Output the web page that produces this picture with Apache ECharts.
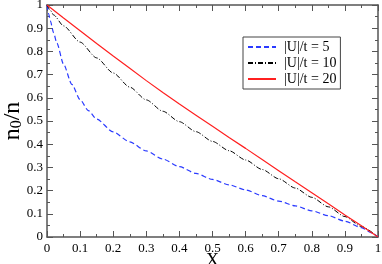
<!DOCTYPE html>
<html><head><meta charset="utf-8">
<script src="https://cdn.jsdelivr.net/npm/echarts@6/dist/echarts.min.js"></script>
<style>html,body{margin:0;padding:0;background:#fff}#c{width:382px;height:264px}</style>
</head><body><div id="c"></div>
<script>
var xTickLabels = ['0','0.1','0.2','0.3','0.4','0.5','0.6','0.7','0.8','0.9','1'];
var yTickLabels = ['0','0.1','0.2','0.3','0.4','0.5','0.6','0.7','0.8','0.9','1'];
var seriesNames = ['|U|/t = 5','|U|/t = 10','|U|/t = 20'];

var xU5 = [0,0.005,0.01,0.02,0.03,0.05,0.075,0.1,0.125,0.15,0.2,0.25,0.3,0.35,0.4,0.45,0.5,0.55,0.6,0.65,0.7,0.75,0.8,0.85,0.9,0.95,0.98,1];
var yU5 = [1,0.962,0.932,0.88,0.835,0.745,0.658,0.592,0.545,0.508,0.453,0.41,0.371,0.336,0.303,0.274,0.248,0.225,0.203,0.178,0.155,0.134,0.113,0.092,0.068,0.04,0.018,0];

var xU10 = [0,0.01,0.02,0.05,0.1,0.15,0.2,0.25,0.3,0.35,0.4,0.45,0.5,0.55,0.6,0.65,0.7,0.75,0.8,0.85,0.9,0.95,1];
var yU10 = [1,0.977,0.957,0.91,0.84,0.772,0.707,0.646,0.591,0.542,0.497,0.454,0.412,0.372,0.332,0.291,0.251,0.211,0.171,0.13,0.088,0.045,0];

var xU20 = [0,0.05,0.1,0.15,0.2,0.25,0.3,0.35,0.4,0.45,0.5,0.55,0.6,0.65,0.7,0.75,0.8,0.85,0.9,0.95,1];
var yU20 = [1,0.944,0.889,0.834,0.78,0.727,0.674,0.623,0.573,0.525,0.477,0.429,0.382,0.334,0.286,0.238,0.191,0.143,0.095,0.048,0];

function pairs(xs, ys){ return xs.map(function(x,i){ return [x, ys[i]]; }); }

var serif = 'Liberation Serif';
var axisCol = '#555';

var chart = echarts.init(document.getElementById('c'), null, {renderer:'canvas'});
function baseAxis(){
  return {
    type:'value', min:0, max:1, interval:0.1,
    axisLine:{show:true, onZero:false, lineStyle:{color:axisCol, width:1.5}},
    axisTick:{show:true, inside:true, length:6, lineStyle:{color:axisCol}},
    minorTick:{show:true, splitNumber:2, length:3, lineStyle:{color:axisCol}},
    splitLine:{show:false}
  };
}
chart.setOption({
  animation:false,
  grid:{left:47, right:4, top:5, bottom:27, containLabel:false, outerBoundsMode:'none'},
  legend:{
    left:243, top:37, orient:'vertical', itemWidth:28, itemHeight:10, itemGap:2,
    padding:[3,4,3,4], borderColor:'#444', borderWidth:1, backgroundColor:'#fff',
    data:seriesNames, itemStyle:{opacity:0},
    textStyle:{fontFamily:serif, fontSize:14, color:'#000', padding:[0,0,0,3]}
  },
  xAxis:[
    Object.assign(baseAxis(), {position:'bottom',
      axisLabel:{show:true, margin:5, fontFamily:serif, fontSize:13, color:'#000',
        formatter:function(v){ return xTickLabels[Math.round(v*10)]; }},
      name:'X', nameLocation:'middle', nameGap:15, nameMoveOverlap:false,
      nameTextStyle:{fontFamily:serif, fontSize:18, color:'#000'}}),
    Object.assign(baseAxis(), {position:'top', axisLabel:{show:false}})
  ],
  yAxis:[
    Object.assign(baseAxis(), {position:'left',
      axisLabel:{show:true, margin:4, fontFamily:serif, fontSize:13, color:'#000',
        formatter:function(v){ return yTickLabels[Math.round(v*10)]; }},
      name:'{a|n}{b|0}{a|/n}', nameLocation:'middle', nameGap:22, nameRotate:90, nameMoveOverlap:false,
      nameTextStyle:{fontFamily:serif, color:'#000',
        rich:{a:{fontFamily:serif, fontSize:24, color:'#000'},
              b:{fontFamily:serif, fontSize:16, color:'#000', verticalAlign:'bottom', padding:[9,0,0,0]}}}}),
    Object.assign(baseAxis(), {position:'right', axisLabel:{show:false}})
  ],
  series:[
    {name:seriesNames[0], type:'line', symbol:'none', smooth:0.25, smoothMonotone:'x', data:pairs(xU5,yU5),
      lineStyle:{color:'#2b3bff', width:1.2, type:[5,3]}, itemStyle:{color:'#2b3bff'}},
    {name:seriesNames[1], type:'line', symbol:'none', smooth:0.25, smoothMonotone:'x', data:pairs(xU10,yU10),
      lineStyle:{color:'#000', width:1, type:[5,2,1,2]}, itemStyle:{color:'#000'}},
    {name:seriesNames[2], type:'line', symbol:'none', smooth:false, data:pairs(xU20,yU20),
      lineStyle:{color:'#ff2020', width:1.2, type:'solid'}, itemStyle:{color:'#ff2020'}}
  ]
});
</script></body></html>
